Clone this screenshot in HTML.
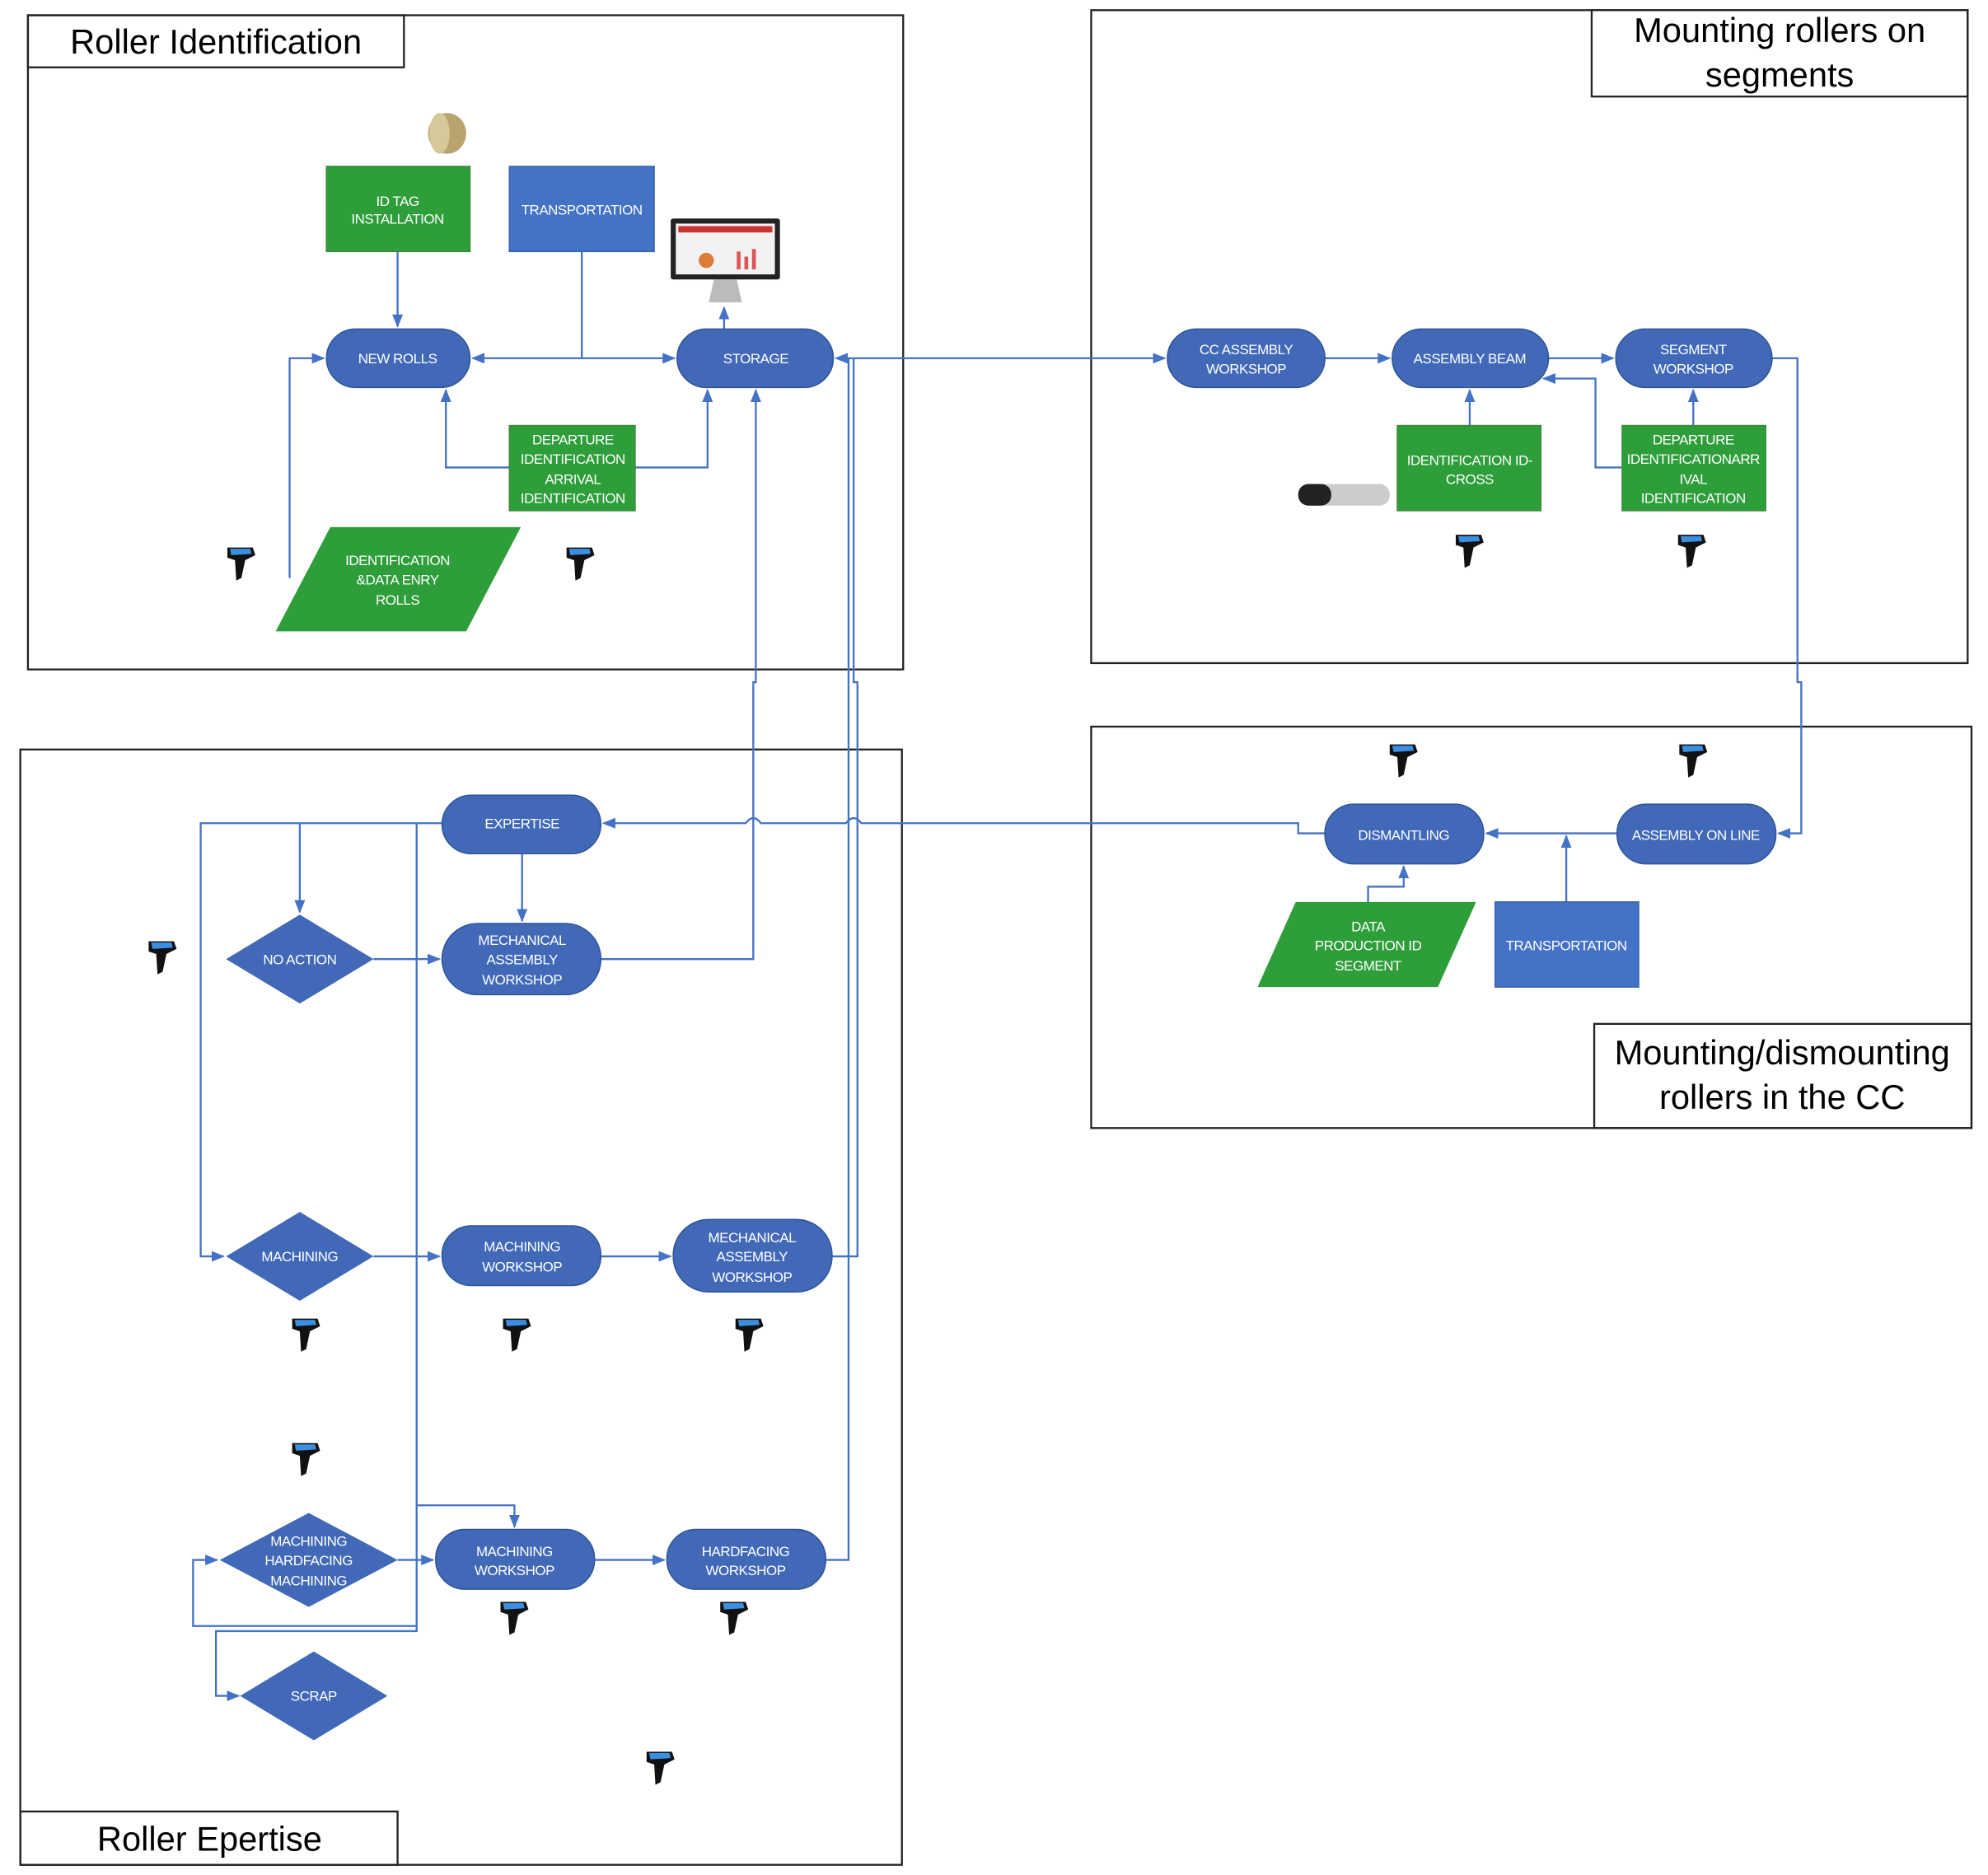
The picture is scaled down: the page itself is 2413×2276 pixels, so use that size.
<!DOCTYPE html>
<html><head><meta charset="utf-8"><style>
html,body{margin:0;padding:0;background:#fff;}
svg{display:block;}
text{font-family:"Liberation Sans",sans-serif;}
.t{fill:#fff;font-size:11px;text-anchor:middle;letter-spacing:-0.3px;}
.h{fill:#000;font-size:27px;text-anchor:middle;}
.c{fill:none;stroke:#4472C4;stroke-width:1.5;}
.box{fill:none;stroke:#222;stroke-width:1.5;}
.pill{fill:#4169B8;stroke:#2F5597;stroke-width:1;}
.gr{fill:#2E9E3A;stroke:#3a8a3a;stroke-width:1;}
.bl{fill:#4472C4;stroke:#3a62b0;stroke-width:1;}
</style></head><body>
<svg width="2413" height="2276" viewBox="0 0 1565 1476" preserveAspectRatio="none" xmlns="http://www.w3.org/2000/svg">
<defs>
<marker id="a" viewBox="0 0 10 10" refX="9" refY="5" markerWidth="7" markerHeight="7" orient="auto-start-reverse"><path d="M0,1 L10,5 L0,9 z" fill="#4472C4"/></marker>
<g id="sc">
<path d="M-11,-14 L9,-14 L11,-8 L3,-4 L0,10 L-4,12 L-5,-4 L-11,-6 z" fill="#111"/>
<path d="M-9,-13 L7,-13 L8,-9 L-8,-8 z" fill="#3b8fe0"/>
</g>
</defs>

<!-- Boxes -->
<rect class="box" x="22" y="12" width="689" height="515"/>
<rect class="box" x="22" y="12" width="296" height="41"/>
<text class="h" x="170" y="42">Roller Identification</text>

<rect class="box" x="859" y="8" width="690" height="514"/>
<rect class="box" x="1253" y="8" width="296" height="68"/>
<text class="h" x="1401" y="33">Mounting rollers on</text>
<text class="h" x="1401" y="68">segments</text>

<rect class="box" x="859" y="572" width="693" height="316"/>
<rect class="box" x="1255" y="806" width="297" height="82"/>
<text class="h" x="1403" y="838">Mounting/dismounting</text>
<text class="h" x="1403" y="873">rollers in the CC</text>

<rect class="box" x="16" y="590" width="694" height="878"/>
<rect class="box" x="16" y="1426" width="297" height="42"/>
<text class="h" x="165" y="1457">Roller Epertise</text>

<!-- Connectors box1 -->
<path class="c" d="M313,198 V257" marker-end="url(#a)"/>
<path class="c" d="M458,198 V282"/>
<path class="c" d="M372,282 H531" marker-start="url(#a)" marker-end="url(#a)"/>
<path class="c" d="M570,259 V242" marker-end="url(#a)"/>
<path class="c" d="M401,368 H351 V307" marker-end="url(#a)"/>
<path class="c" d="M500,368 H557 V307" marker-end="url(#a)"/>
<path class="c" d="M228,455 V282 H255" marker-end="url(#a)"/>
<path class="c" d="M658,282 H917" marker-start="url(#a)" marker-end="url(#a)"/>
<!-- box2 -->
<path class="c" d="M1043,282 H1094" marker-end="url(#a)"/>
<path class="c" d="M1219,282 H1270" marker-end="url(#a)"/>
<path class="c" d="M1157,335 V307" marker-end="url(#a)"/>
<path class="c" d="M1333,335 V307" marker-end="url(#a)"/>
<path class="c" d="M1277,368 H1256 V298 H1215" marker-end="url(#a)"/>
<path class="c" d="M1395,282 H1415 V537 H1418 V656 H1400" marker-end="url(#a)"/>
<!-- box3 -->
<path class="c" d="M1273,656 H1170" marker-end="url(#a)"/>
<path class="c" d="M1233,710 V658" marker-end="url(#a)"/>
<path class="c" d="M1077,710 V698 H1105 V682" marker-end="url(#a)"/>
<path class="c" d="M1043,656 H1022 V648 H678 Q672,640 666,648 H599 Q593,640 587,648 H475" marker-end="url(#a)"/>
<!-- storage returns -->
<path class="c" d="M473,755 H593 V537 H595 V307" marker-end="url(#a)"/>
<path class="c" d="M655,989 H675 V537 H672 V282"/>
<path class="c" d="M650,1228 H668 V537 H668 V282"/>
<!-- box4 -->
<path class="c" d="M348,648 H158 V989 H176" marker-end="url(#a)"/>
<path class="c" d="M236,648 V718" marker-end="url(#a)"/>
<path class="c" d="M411,672 V725" marker-end="url(#a)"/>
<path class="c" d="M294,755 H346" marker-end="url(#a)"/>
<path class="c" d="M294,989 H346" marker-end="url(#a)"/>
<path class="c" d="M473,989 H528" marker-end="url(#a)"/>
<path class="c" d="M328,648 V1284 H170 V1335 H188" marker-end="url(#a)"/>
<path class="c" d="M328,1185 H405 V1202" marker-end="url(#a)"/>
<path class="c" d="M313,1228 H341" marker-end="url(#a)"/>
<path class="c" d="M468,1228 H523" marker-end="url(#a)"/>
<path class="c" d="M328,1280 H152 V1228 H171" marker-end="url(#a)"/>

<!-- Box1 nodes -->
<ellipse cx="352" cy="105" rx="15" ry="16" fill="#b9a46f"/>
<ellipse cx="346" cy="105" rx="8" ry="16" fill="#d6c898"/>
<rect class="gr" x="257" y="131" width="113" height="67"/>
<text class="t" x="313" y="162">ID TAG</text><text class="t" x="313" y="176">INSTALLATION</text>
<rect class="bl" x="401" y="131" width="114" height="67"/>
<text class="t" x="458" y="169">TRANSPORTATION</text>
<rect x="528" y="172" width="86" height="48" rx="2" fill="#222"/>
<rect x="532" y="176" width="78" height="40" fill="#f2f2f2"/>
<rect x="534" y="178" width="74" height="5" fill="#c33"/>
<rect x="580" y="198" width="3" height="14" fill="#d55"/><rect x="586" y="202" width="3" height="10" fill="#d55"/><rect x="592" y="196" width="3" height="16" fill="#d55"/>
<circle cx="556" cy="205" r="6" fill="#e07b39"/>
<path d="M562,220 L580,220 L584,238 L558,238 z" fill="#bbb"/>
<rect class="pill" x="257" y="259" width="113" height="46" rx="23"/>
<text class="t" x="313" y="286">NEW ROLLS</text>
<rect class="pill" x="533" y="259" width="123" height="46" rx="23"/>
<text class="t" x="595" y="286">STORAGE</text>
<rect class="gr" x="401" y="335" width="99" height="67"/>
<text class="t" x="451" y="350">DEPARTURE</text><text class="t" x="451" y="365">IDENTIFICATION</text><text class="t" x="451" y="381">ARRIVAL</text><text class="t" x="451" y="396">IDENTIFICATION</text>
<path d="M260,415 L410,415 L367,497 L217,497 z" fill="#2E9E3A"/>
<text class="t" x="313" y="445">IDENTIFICATION</text><text class="t" x="313" y="460">&amp;DATA ENRY</text><text class="t" x="313" y="476">ROLLS</text>
<use href="#sc" x="190" y="445"/><use href="#sc" x="457" y="445"/>

<!-- Box2 nodes -->
<rect class="pill" x="919" y="259" width="124" height="46" rx="23"/>
<text class="t" x="981" y="279">CC ASSEMBLY</text><text class="t" x="981" y="294">WORKSHOP</text>
<rect class="pill" x="1096" y="259" width="123" height="46" rx="23"/>
<text class="t" x="1157" y="286">ASSEMBLY BEAM</text>
<rect class="pill" x="1272" y="259" width="123" height="46" rx="23"/>
<text class="t" x="1333" y="279">SEGMENT</text><text class="t" x="1333" y="294">WORKSHOP</text>
<rect class="gr" x="1100" y="335" width="113" height="67"/>
<text class="t" x="1157" y="366">IDENTIFICATION ID-</text><text class="t" x="1157" y="381">CROSS</text>
<rect class="gr" x="1277" y="335" width="113" height="67"/>
<text class="t" x="1333" y="350">DEPARTURE</text><text class="t" x="1333" y="365">IDENTIFICATIONARR</text><text class="t" x="1333" y="381">IVAL</text><text class="t" x="1333" y="396">IDENTIFICATION</text>
<rect x="1022" y="381" width="72" height="17" rx="8" fill="#ccc"/>
<rect x="1022" y="381" width="26" height="17" rx="8" fill="#222"/>
<use href="#sc" x="1157" y="435"/><use href="#sc" x="1332" y="435"/>

<!-- Box3 nodes -->
<rect class="pill" x="1043" y="633" width="125" height="47" rx="23"/>
<text class="t" x="1105" y="661">DISMANTLING</text>
<rect class="pill" x="1273" y="633" width="125" height="47" rx="23"/>
<text class="t" x="1335" y="661">ASSEMBLY ON LINE</text>
<path d="M1020,710 L1162,710 L1132,777 L990,777 z" fill="#2E9E3A"/>
<text class="t" x="1077" y="733">DATA</text><text class="t" x="1077" y="748">PRODUCTION ID</text><text class="t" x="1077" y="764">SEGMENT</text>
<rect class="bl" x="1177" y="710" width="113" height="67"/>
<text class="t" x="1233" y="748">TRANSPORTATION</text>
<use href="#sc" x="1105" y="600"/><use href="#sc" x="1333" y="600"/>

<!-- Box4 nodes -->
<rect class="pill" x="348" y="626" width="125" height="46" rx="23"/>
<text class="t" x="411" y="652">EXPERTISE</text>
<path d="M236,720 L294,755 L236,790 L178,755 z" fill="#4169B8"/>
<text class="t" x="236" y="759">NO ACTION</text>
<rect class="pill" x="348" y="727" width="125" height="56" rx="28"/>
<text class="t" x="411" y="744">MECHANICAL</text><text class="t" x="411" y="759">ASSEMBLY</text><text class="t" x="411" y="775">WORKSHOP</text>
<path d="M236,954 L294,989 L236,1024 L178,989 z" fill="#4169B8"/>
<text class="t" x="236" y="993">MACHINING</text>
<rect class="pill" x="348" y="965" width="125" height="47" rx="23"/>
<text class="t" x="411" y="985">MACHINING</text><text class="t" x="411" y="1001">WORKSHOP</text>
<rect class="pill" x="530" y="960" width="125" height="57" rx="28"/>
<text class="t" x="592" y="978">MECHANICAL</text><text class="t" x="592" y="993">ASSEMBLY</text><text class="t" x="592" y="1009">WORKSHOP</text>
<path d="M243,1191 L313,1228 L243,1265 L173,1228 z" fill="#4169B8"/>
<text class="t" x="243" y="1217">MACHINING</text><text class="t" x="243" y="1232">HARDFACING</text><text class="t" x="243" y="1248">MACHINING</text>
<rect class="pill" x="343" y="1204" width="125" height="47" rx="23"/>
<text class="t" x="405" y="1225">MACHINING</text><text class="t" x="405" y="1240">WORKSHOP</text>
<rect class="pill" x="525" y="1204" width="125" height="47" rx="23"/>
<text class="t" x="587" y="1225">HARDFACING</text><text class="t" x="587" y="1240">WORKSHOP</text>
<path d="M247,1300 L305,1335 L247,1370 L189,1335 z" fill="#4169B8"/>
<text class="t" x="247" y="1339">SCRAP</text>
<use href="#sc" x="128" y="755"/><use href="#sc" x="241" y="1052"/><use href="#sc" x="407" y="1052"/><use href="#sc" x="590" y="1052"/>
<use href="#sc" x="241" y="1150"/><use href="#sc" x="405" y="1275"/><use href="#sc" x="578" y="1275"/><use href="#sc" x="520" y="1393"/>
</svg>
</body></html>
